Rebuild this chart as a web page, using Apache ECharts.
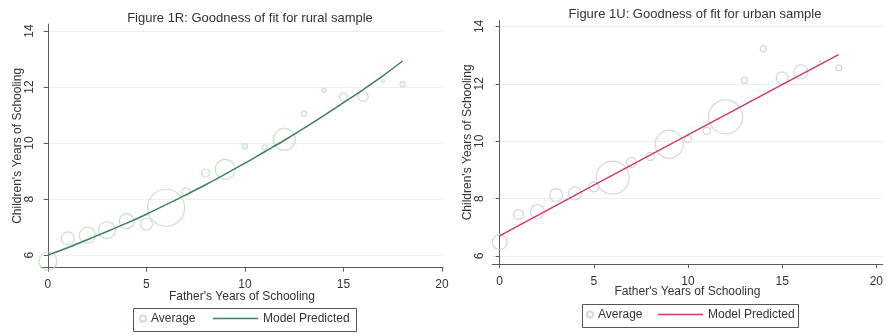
<!DOCTYPE html>
<html>
<head>
    <meta charset="utf-8">
    <script src="https://cdn.jsdelivr.net/npm/echarts@6/dist/echarts.min.js"></script>
    <style>
        html, body { margin: 0; padding: 0; background: #fff; }
        #chart { width: 886px; height: 335px; }
    </style>
</head>
<body>
    <div id="chart"></div>
    <script type="text/javascript">
        // father's years of schooling
        var fatherYears = [0, 1, 2, 3, 4, 5, 6, 7, 8, 9, 10, 11, 12, 13, 14, 15, 16, 17, 18];
        // rural sample: average children's schooling, bubble diameter, model line
        var ruralAvg  = [5.79, 6.6, 6.71, 6.89, 7.21, 7.11, 7.69, 8.26, 8.93, 9.06, 9.89, 9.85, 10.13, 11.05, 11.89, 11.64, 11.67, 12.21, 12.1];
        var ruralSize = [18, 13, 16, 17, 15, 12, 37, 8, 8, 20, 5, 5, 22, 5, 4, 8, 10, 3, 5];
        var ruralFit  = [6.0, 6.26, 6.55, 6.84, 7.14, 7.46, 7.8, 8.15, 8.51, 8.89, 9.28, 9.69, 10.1, 10.53, 10.98, 11.44, 11.91, 12.4, 12.93];
        // urban sample
        var urbanAvg  = [6.48, 7.44, 7.55, 8.12, 8.18, 8.41, 8.73, 9.26, 9.47, 9.89, 10.07, 10.36, 10.85, 12.12, 13.22, 12.21, 12.42, 12.78, 12.56];
        var urbanSize = [15, 10, 14, 13, 13, 10, 33, 10, 8, 28, 7, 7, 34, 6, 6, 12, 14, 2, 6];
        var urbanFitX = [0, 5, 10, 15, 18];
        var urbanFit  = [6.70, 8.47, 10.22, 11.97, 13.02];
        var xTicks = [0, 5, 10, 15, 20];
        var yTicks = [6, 8, 10, 12, 14];

        function pairs(xs, ys, sizes) {
            return xs.map(function (x, i) {
                return sizes ? [x, ys[i], sizes[i]] : [x, ys[i]];
            });
        }

        var font = 'Liberation Sans, Arial, sans-serif';
        var axisGray = '#5a5a5a';

        function makeX(idx, min, max, gap, margin) {
            return {
                gridIndex: idx, type: 'value', min: min, max: max,
                name: "Father's Years of Schooling", nameLocation: 'middle', nameGap: gap,
                nameMoveOverlap: false,
                nameTextStyle: { color: '#333', fontSize: 12, fontFamily: font },
                axisLine: { lineStyle: { color: axisGray, width: 1 } },
                axisTick: { show: true, length: 4, customValues: xTicks, lineStyle: { color: axisGray } },
                axisLabel: { customValues: xTicks, color: '#333', fontSize: 12, fontFamily: font, margin: margin },
                splitLine: { show: false }
            };
        }
        function makeY(idx, min, max, gap, margin) {
            return {
                gridIndex: idx, type: 'value', min: min, max: max,
                name: "Children's Years of Schooling", nameLocation: 'middle', nameGap: gap,
                nameMoveOverlap: false,
                nameTextStyle: { color: '#333', fontSize: 12, fontFamily: font },
                axisLine: { show: true, lineStyle: { color: axisGray, width: 1 } },
                axisTick: { show: true, length: 4, customValues: yTicks, lineStyle: { color: axisGray } },
                axisLabel: { customValues: yTicks, rotate: 90, color: '#333', fontSize: 12, fontFamily: font, margin: margin },
                splitLine: { show: true, lineStyle: { color: '#eeeeee', width: 1 } }
            };
        }
        function legendFmt(name) {
            return name.replace(/ [RU]$/, '');
        }
        function makeLegend(name, left, top, w, h, icon) {
            var lg = {
                data: [name], left: left, top: top, padding: 0,
                itemWidth: w, itemHeight: h, formatter: legendFmt,
                textStyle: { color: '#333', fontSize: 12, fontFamily: font },
                selectedMode: false
            };
            if (icon) lg.icon = icon;
            return lg;
        }

        var option = {
            animation: false,
            backgroundColor: '#fff',
            title: [
                { text: 'Figure 1R: Goodness of fit for rural sample', left: 245, top: 7, textAlign: 'center',
                  textStyle: { color: '#333', fontSize: 13, fontWeight: 'normal', fontFamily: font } },
                { text: 'Figure 1U: Goodness of fit for urban sample', left: 690, top: 3, textAlign: 'center',
                  textStyle: { color: '#333', fontSize: 13, fontWeight: 'normal', fontFamily: font } }
            ],
            grid: [
                { left: 41, top: 24, width: 402, height: 243.7 },
                { left: 492.3, top: 20.7, width: 393.7, height: 243.3 }
            ],
            xAxis: [makeX(0, -0.35, 20.05, 23, 11), makeX(1, -0.39, 20.33, 22, 12)],
            yAxis: [makeY(0, 5.55, 14.25, 17, 5), makeY(1, 5.72, 14.2, 19, 7)],
            legend: [
                makeLegend('Average R', 139, 312.5, 6, 6),
                makeLegend('Model Predicted R', 213, 312.5, 45, 14, 'path://M0,7 L45,7 L45,8.5 L0,8.5 Z'),
                makeLegend('Average U', 586, 308.5, 6, 6),
                makeLegend('Model Predicted U', 658, 308.5, 45, 14, 'path://M0,7 L45,7 L45,8.5 L0,8.5 Z')
            ],
            graphic: [
                { type: 'rect', shape: { x: 133.5, y: 308.5, width: 223, height: 23 },
                  style: { fill: 'none', stroke: '#555', lineWidth: 1 }, silent: true },
                { type: 'rect', shape: { x: 582.5, y: 304.5, width: 216, height: 23 },
                  style: { fill: 'none', stroke: '#555', lineWidth: 1 }, silent: true }
            ],
            series: [
                {
                    name: 'Average R', type: 'scatter', xAxisIndex: 0, yAxisIndex: 0, clip: false,
                    data: pairs(fatherYears, ruralAvg, ruralSize),
                    symbol: 'circle',
                    symbolSize: function (d) { return d[2]; },
                    itemStyle: { color: 'rgba(255,255,255,0)', borderColor: '#bcdcb5', borderWidth: 1.2 }
                },
                {
                    name: 'Model Predicted R', type: 'line', xAxisIndex: 0, yAxisIndex: 0,
                    data: pairs(fatherYears, ruralFit), smooth: 0.3, symbol: 'none',
                    lineStyle: { color: '#3f7d68', width: 1.5 }, itemStyle: { color: '#3f7d68' }
                },
                {
                    name: 'Average U', type: 'scatter', xAxisIndex: 1, yAxisIndex: 1, clip: false,
                    data: pairs(fatherYears, urbanAvg, urbanSize),
                    symbol: 'circle',
                    symbolSize: function (d) { return d[2]; },
                    itemStyle: { color: 'rgba(255,255,255,0)', borderColor: '#cdcdcd', borderWidth: 1.2 }
                },
                {
                    name: 'Model Predicted U', type: 'line', xAxisIndex: 1, yAxisIndex: 1,
                    data: pairs(urbanFitX, urbanFit), symbol: 'none',
                    lineStyle: { color: '#cf3a68', width: 1.5 }, itemStyle: { color: '#cf3a68' }
                }
            ]
        };

        var myChart = echarts.init(document.getElementById('chart'));
        myChart.setOption(option);
    </script>
</body>
</html>
